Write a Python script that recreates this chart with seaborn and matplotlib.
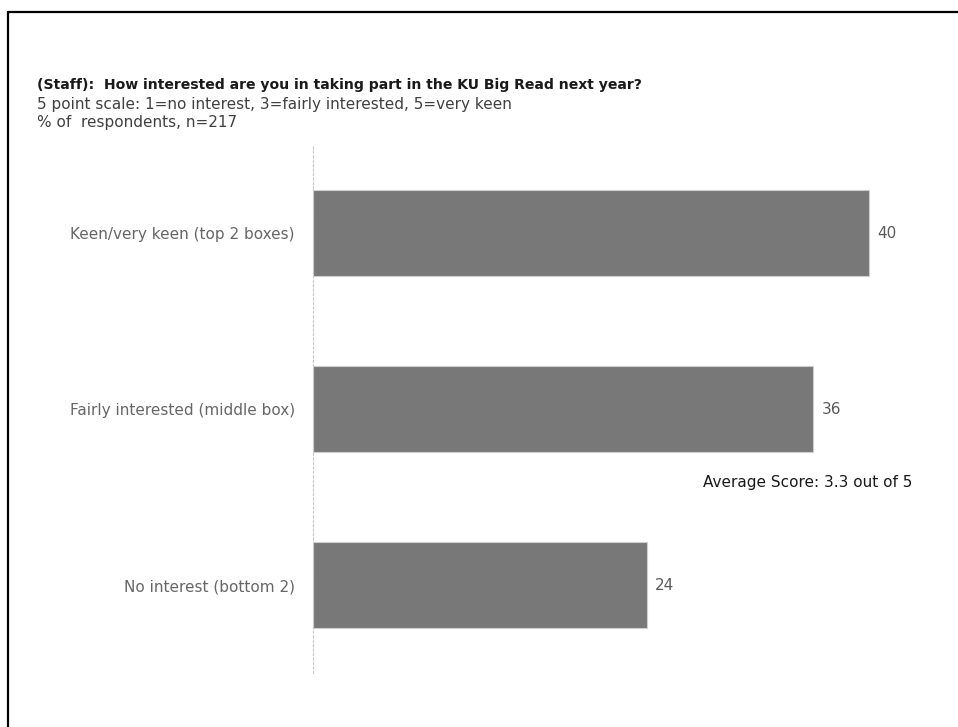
import matplotlib
matplotlib.use("Agg")
import matplotlib.pyplot as plt
from matplotlib.lines import Line2D
import seaborn as sns
import pandas as pd

categories = ["Keen/very keen (top 2 boxes)", "Fairly interested (middle box)", "No interest (bottom 2)"]
values = [40, 36, 24]
title = "(Staff):  How interested are you in taking part in the KU Big Read next year?"
subtitle1 = "5 point scale: 1=no interest, 3=fairly interested, 5=very keen"
subtitle2 = "% of  respondents, n=217"
note = "Average Score: 3.3 out of 5"

sns.set_theme(style="white")
plt.rcParams['font.family'] = ['DejaVu Sans']

df = pd.DataFrame({"category": categories, "value": values})

W, H, DPI = 958, 727, 100
fig = plt.figure(figsize=(W / DPI, H / DPI), dpi=DPI)
left_px, right_px = 313, 929
top_px, bot_px = 145, 673
ax = fig.add_axes([left_px / W, 1 - bot_px / H, (right_px - left_px) / W, (bot_px - top_px) / H])

sns.barplot(data=df, y="category", x="value", orient="h", color="#787878",
            width=0.49, edgecolor="#cfcfcf", linewidth=0.8, saturation=1, ax=ax)

px_per_unit = 13.9
ax.set_xlim(0, (right_px - left_px) / px_per_unit)
ax.set_ylim(2.5, -0.5)

for i, v in enumerate(values):
    ax.text(v + 0.6, i, str(v), va="center", ha="left", fontsize=11, color="#595959")

for s in ["top", "right", "bottom"]:
    ax.spines[s].set_visible(False)
ax.spines["left"].set_color("#c8c8c8")
ax.spines["left"].set_linestyle((0, (2, 2)))
ax.spines["left"].set_linewidth(0.8)
ax.set_xticks([])
ax.set_xlabel("")
ax.set_ylabel("")
ax.tick_params(axis="y", length=0, pad=13, labelsize=11, labelcolor="#666666")

fig.text(37 / W, 1 - 85 / H, title, fontsize=10.1, fontweight="bold", color="#1a1a1a", va="center", ha="left")
fig.text(37 / W, 1 - 104 / H, subtitle1, fontsize=11, color="#404040", va="center", ha="left")
fig.text(37 / W, 1 - 122 / H, subtitle2, fontsize=11, color="#404040", va="center", ha="left")
fig.text(912 / W, 1 - 482 / H, note, fontsize=11, color="#1a1a1a", va="center", ha="right")

fig.add_artist(Line2D([7.5 / W, 7.5 / W], [0, 1 - 11.5 / H], transform=fig.transFigure, color="black", linewidth=1.6))
fig.add_artist(Line2D([7.5 / W, 1], [1 - 11.5 / H, 1 - 11.5 / H], transform=fig.transFigure, color="black", linewidth=1.6))

fig.savefig("out.png", dpi=DPI)
